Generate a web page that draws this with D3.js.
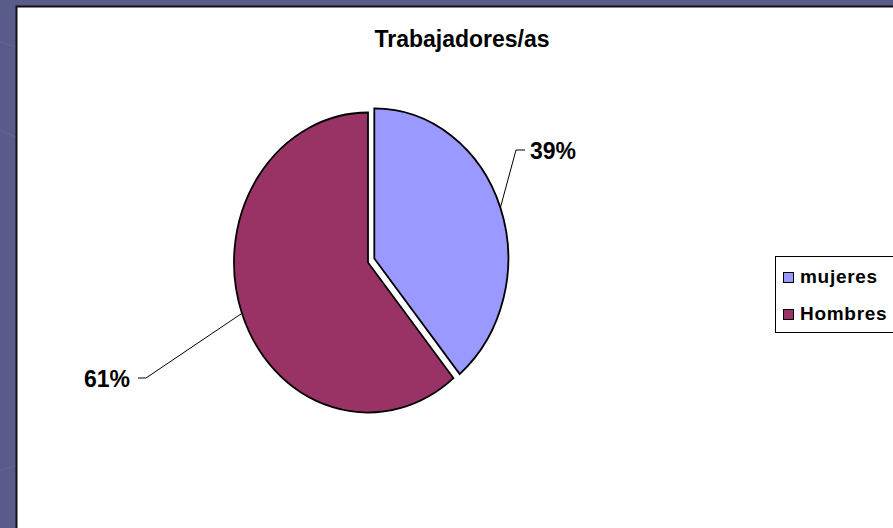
<!DOCTYPE html>
<html>
<head>
<meta charset="utf-8">
<script src="https://cdn.jsdelivr.net/npm/d3@7"></script>
<style>
  html, body { margin: 0; padding: 0; background: #595b8b; }
  svg { display: block; }
  text { font-family: "Liberation Sans", Arial, sans-serif; font-weight: bold; fill: #000; }
</style>
</head>
<body>
<svg id="chart" width="893" height="528"></svg>
<script>
// data
const categories = ['mujeres', 'Hombres'];
const values = [39, 61];
const colors = ['#9999ff', '#993366'];
const title = 'Trabajadores/as';

const W = 893, H = 528;
const svg = d3.select('#chart');

// slide background with a few faint streaks
const bg = svg.append('g');
bg.append('rect').attr('width', W).attr('height', H).attr('fill', '#595b8b');
const streaks = [[0, 42, 16, 47], [0, 130, 16, 137], [0, 470, 16, 466]];
bg.selectAll('line.streak').data(streaks).enter().append('line')
  .attr('x1', d => d[0]).attr('y1', d => d[1]).attr('x2', d => d[2]).attr('y2', d => d[3])
  .attr('stroke', '#6a6d9d').attr('stroke-width', 1.5).attr('opacity', 0.5);

// chart area
svg.append('rect')
  .attr('x', 16.5).attr('y', 6.5).attr('width', W).attr('height', H)
  .attr('fill', '#fff').attr('stroke', '#111').attr('stroke-width', 2);

svg.append('text')
  .attr('x', 462).attr('y', 47)
  .attr('text-anchor', 'middle')
  .attr('font-size', 23)
  .text(title);

// pie is drawn on a circle and squashed horizontally
const cx = 368, cy = 262.5, ry = 150, rx = 134;
const sx = rx / ry;
const pie = d3.pie().sort(null).value(d => d)(values);
const arc = d3.arc().innerRadius(0).outerRadius(ry);
const explode = [7.5, 0];

const pieG = svg.append('g').attr('transform', `translate(${cx},${cy})`);
pie.forEach((p, i) => {
  const mid = (p.startAngle + p.endAngle) / 2;
  const ox = Math.sin(mid) * explode[i] * sx;
  const oy = -Math.cos(mid) * explode[i] - (i === 0 ? 1.5 : 0);
  const g = pieG.append('g').attr('transform', `translate(${ox},${oy}) scale(${sx},1)`);
  g.append('path')
    .attr('d', arc(p))
    .attr('fill', colors[i])
    .attr('stroke', '#000')
    .attr('stroke-width', 1.8)
    .attr('vector-effect', 'non-scaling-stroke');
  p.ox = ox; p.oy = oy; p.mid = mid;
});

// data labels with leader lines
const fmt = d => d + '%';
const labelPos = [
  { tx: 530, ty: 159, anchor: 'start', elbow: [[516, 150], [525, 150]] },
  { tx: 130, ty: 387, anchor: 'end', elbow: [[146, 378], [138, 378]] }
];
pie.forEach((p, i) => {
  const ex = cx + p.ox + Math.sin(p.mid) * rx;
  const ey = cy + p.oy - Math.cos(p.mid) * ry;
  const lp = labelPos[i];
  const pts = [[ex, ey]].concat(lp.elbow);
  svg.append('path')
    .attr('d', d3.line()(pts))
    .attr('fill', 'none').attr('stroke', '#000').attr('stroke-width', 1);
  svg.append('text')
    .attr('x', lp.tx).attr('y', lp.ty)
    .attr('text-anchor', lp.anchor)
    .attr('font-size', 23)
    .text(fmt(values[i]));
});

// legend
const legend = svg.append('g');
legend.append('rect')
  .attr('x', 775.5).attr('y', 256.5).attr('width', 140).attr('height', 76)
  .attr('fill', '#fff').attr('stroke', '#000').attr('stroke-width', 1);
const items = legend.selectAll('g.item').data(categories).enter().append('g')
  .attr('transform', (d, i) => `translate(783,${272 + i * 37})`);
items.append('rect')
  .attr('x', 0.5).attr('y', 0.5).attr('width', 10).attr('height', 10)
  .attr('fill', (d, i) => colors[i]).attr('stroke', '#000').attr('stroke-width', 1);
items.append('text')
  .attr('x', 17).attr('y', 11)
  .attr('font-size', 19)
  .attr('letter-spacing', 0.7)
  .text(d => d);
</script>
</body>
</html>
